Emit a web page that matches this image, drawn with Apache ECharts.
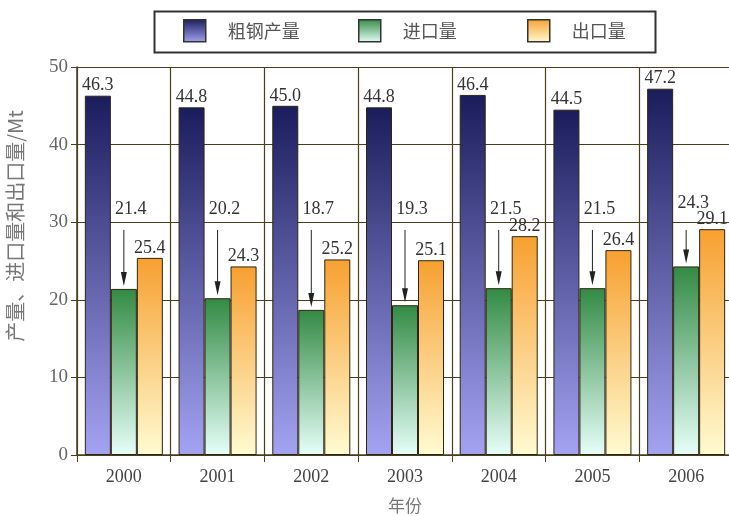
<!DOCTYPE html>
<html>
<head>
<meta charset="utf-8">
<script src="https://cdn.jsdelivr.net/npm/echarts@6/dist/echarts.min.js"></script>
<style>
  html, body { margin: 0; padding: 0; background: #ffffff; }
  #chart { width: 729px; height: 516px; }
</style>
</head>
<body>
<div id="chart"></div>
<script>
// Years on the category axis
const years = ['2000', '2001', '2002', '2003', '2004', '2005', '2006'];
// Crude steel output, imports and exports (Mt)
const crudeSteel = [46.3, 44.8, 45.0, 44.8, 46.4, 44.5, 47.2];
const imports = [21.4, 20.2, 18.7, 19.3, 21.5, 21.5, 24.3];
const exportsVol = [25.4, 24.3, 25.2, 25.1, 28.2, 26.4, 29.1];
const seriesNames = ['粗钢产量', '进口量', '出口量'];
const yTicks = [0, 10, 20, 30, 40, 50];

const serif = '"Liberation Serif", "DejaVu Serif", serif';
const cjk = '"Noto Sans CJK SC", sans-serif';
const lineColor = '#4a3f1c';

function grad(top, bottom) {
  return {
    type: 'linear', x: 0, y: 0, x2: 0, y2: 1,
    colorStops: [{ offset: 0, color: top }, { offset: 1, color: bottom }]
  };
}
const blueFill = grad('#1b1c5c', '#a3a3f2');
const greenFill = grad('#338a44', '#e6fff9');
const orangeFill = grad('#f7a030', '#fffbd2');

const barBorder = { borderColor: '#2e2410', borderWidth: 1 };
const valueLabel = {
  show: true, position: 'top', distance: 1,
  fontFamily: serif, fontSize: 18, color: '#333',
  formatter: p => p.value.toFixed(1)
};

const chart = echarts.init(document.getElementById('chart'), null, { renderer: 'canvas' });

function legendAt(name, left) {
  return {
    data: [name], left: left, top: 19, padding: 0,
    icon: 'rect', itemWidth: 22, itemHeight: 22,
    selectedMode: false,
    itemStyle: { borderColor: '#333', borderWidth: 1.5 },
    textStyle: { fontFamily: cjk, fontSize: 18, color: '#555', padding: [0, 0, 0, 17] }
  };
}

chart.setOption({
  animation: false,
  backgroundColor: '#ffffff',
  legend: [
    legendAt(seriesNames[0], 183),
    legendAt(seriesNames[1], 358),
    legendAt(seriesNames[2], 527)
  ],
  graphic: [
    {
      type: 'rect', left: 152, top: 9,
      shape: { width: 501, height: 41 },
      style: { fill: 'none', stroke: '#333', lineWidth: 2 }
    },
    {
      type: 'text', x: 15, y: 226, rotation: Math.PI / 2,
      style: {
        text: '产量、进口量和出口量/Mt',
        fontFamily: cjk, fontSize: 20, fill: '#777',
        align: 'center', verticalAlign: 'middle'
      }
    }
  ],
  grid: { left: 77, right: -4, top: 67, bottom: 61, outerBoundsMode: 'none', containLabel: false },
  xAxis: {
    type: 'category',
    data: years,
    boundaryGap: true,
    name: '年份',
    nameLocation: 'middle',
    nameGap: 42,
    nameTextStyle: { fontFamily: cjk, fontSize: 17, color: '#777' },
    axisLine: { lineStyle: { color: lineColor, width: 1.5 } },
    axisTick: { show: true, length: 7, inside: false, lineStyle: { color: lineColor } },
    axisLabel: { fontFamily: serif, fontSize: 18, color: '#444', margin: 13 },
    splitLine: { show: true, lineStyle: { color: lineColor, width: 1.2 } }
  },
  yAxis: {
    type: 'value',
    min: yTicks[0], max: yTicks[yTicks.length - 1], interval: 10,
    axisLine: { show: true, lineStyle: { color: lineColor, width: 1.5 } },
    axisTick: { show: true, length: 6, lineStyle: { color: lineColor } },
    axisLabel: { fontFamily: serif, fontSize: 19, color: '#666', margin: 9 },
    splitLine: { show: true, lineStyle: { color: lineColor, width: 1.2 } }
  },
  series: [
    {
      name: seriesNames[0], type: 'bar', data: crudeSteel,
      barWidth: 26, barGap: '0%',
      itemStyle: Object.assign({ color: blueFill }, barBorder),
      label: valueLabel
    },
    {
      name: seriesNames[1], type: 'bar', data: imports,
      barWidth: 26, barGap: '0%',
      itemStyle: Object.assign({ color: greenFill }, barBorder)
    },
    {
      name: seriesNames[2], type: 'bar', data: exportsVol,
      barWidth: 26, barGap: '0%',
      itemStyle: Object.assign({ color: orangeFill }, barBorder),
      label: valueLabel
    },
    {
      // Import values: raised label with a down arrow pointing to the bar top
      type: 'custom',
      name: 'importCallout',
      data: imports.map((v, i) => [i, v, exportsVol[i]]),
      encode: { x: 0, y: 1 },
      z: 5,
      renderItem: function (params, api) {
        const i = api.value(0);
        const v = api.value(1);
        const exp = api.value(2);
        // keep the callout text clear of the neighbouring export label
        const labelLevel = Math.max(31.7, exp + 3.4);
        const start = api.coord([i, 29]);
        const tip = api.coord([i, v]);
        const lab = api.coord([i, labelLevel]);
        const x = start[0];
        const tipY = tip[1] - 3;
        const headLen = 14;
        return {
          type: 'group',
          children: [
            {
              type: 'line',
              shape: { x1: x, y1: start[1], x2: x, y2: tipY - headLen + 2 },
              style: { stroke: '#222', lineWidth: 1 }
            },
            {
              type: 'polygon',
              shape: { points: [[x - 3, tipY - headLen], [x + 3, tipY - headLen], [x, tipY]] },
              style: { fill: '#222' }
            },
            {
              type: 'text',
              x: x + 7, y: lab[1],
              style: {
                text: v.toFixed(1),
                fontFamily: serif, fontSize: 18, fill: '#333',
                align: 'center', verticalAlign: 'middle'
              }
            }
          ]
        };
      }
    }
  ]
});
</script>
</body>
</html>
